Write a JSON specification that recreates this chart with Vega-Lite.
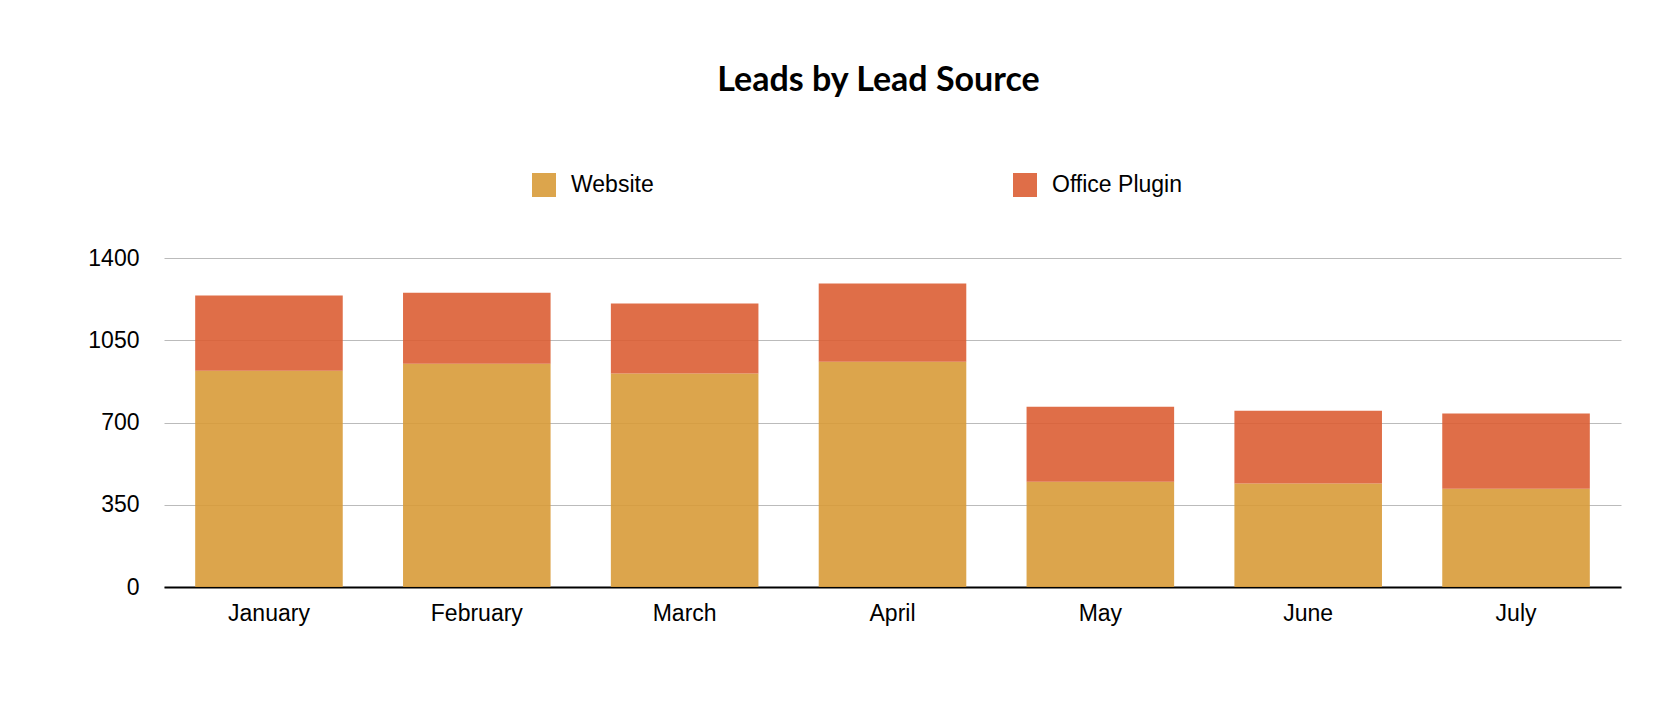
{
  "$schema": "https://vega.github.io/schema/vega-lite/v6.json",
  "autosize": "none",
  "width": 1457,
  "height": 329,
  "padding": {"left": 164, "top": 258, "right": 59, "bottom": 119},
  "background": "white",
  "title": {
    "text": "Leads by Lead Source",
    "font": "Lato",
    "fontSize": 34,
    "fontWeight": "bold",
    "color": "black",
    "anchor": "middle",
    "dx": -14,
    "offset": 75
  },
  "config": {
    "view": {"stroke": null},
    "axis": {
      "labelFont": "Liberation Sans",
      "labelFontSize": 23,
      "labelColor": "black",
      "title": null,
      "ticks": false
    }
  },
  "data": {
    "values": [
      {"month": "January", "source": "Website", "leads": 920},
      {"month": "January", "source": "Office Plugin", "leads": 320},
      {"month": "February", "source": "Website", "leads": 950},
      {"month": "February", "source": "Office Plugin", "leads": 302},
      {"month": "March", "source": "Website", "leads": 908},
      {"month": "March", "source": "Office Plugin", "leads": 298},
      {"month": "April", "source": "Website", "leads": 959},
      {"month": "April", "source": "Office Plugin", "leads": 332},
      {"month": "May", "source": "Website", "leads": 448},
      {"month": "May", "source": "Office Plugin", "leads": 319},
      {"month": "June", "source": "Website", "leads": 440},
      {"month": "June", "source": "Office Plugin", "leads": 310},
      {"month": "July", "source": "Website", "leads": 418},
      {"month": "July", "source": "Office Plugin", "leads": 320}
    ]
  },
  "mark": {"type": "bar", "opacity": 0.9},
  "encoding": {
    "x": {
      "field": "month",
      "type": "nominal",
      "sort": null,
      "scale": {"paddingInner": 0.29, "paddingOuter": 0.15},
      "axis": {
        "labelAngle": 0,
        "labelPadding": 15,
        "domainColor": "black",
        "domainWidth": 2,
        "grid": false
      }
    },
    "y": {
      "field": "leads",
      "type": "quantitative",
      "stack": "zero",
      "scale": {"domain": [0, 1400]},
      "axis": {
        "values": [0, 350, 700, 1050, 1400],
        "format": "d",
        "domain": false,
        "labelPadding": 25,
        "gridColor": "#bbbbbb",
        "gridWidth": 1
      }
    },
    "color": {
      "field": "source",
      "type": "nominal",
      "scale": {
        "domain": ["Website", "Office Plugin"],
        "range": ["#d89b38", "#dc5e34"]
      },
      "legend": {
        "title": null,
        "orient": "none",
        "legendX": 368,
        "legendY": -85,
        "direction": "horizontal",
        "columns": 2,
        "columnPadding": 359,
        "symbolType": "square",
        "symbolSize": 576,
        "symbolStrokeWidth": 0,
        "symbolOpacity": 0.9,
        "labelFont": "Liberation Sans",
        "labelFontSize": 23,
        "labelColor": "black",
        "labelOffset": 15
      }
    },
    "order": {"field": "source", "sort": "descending"}
  }
}
